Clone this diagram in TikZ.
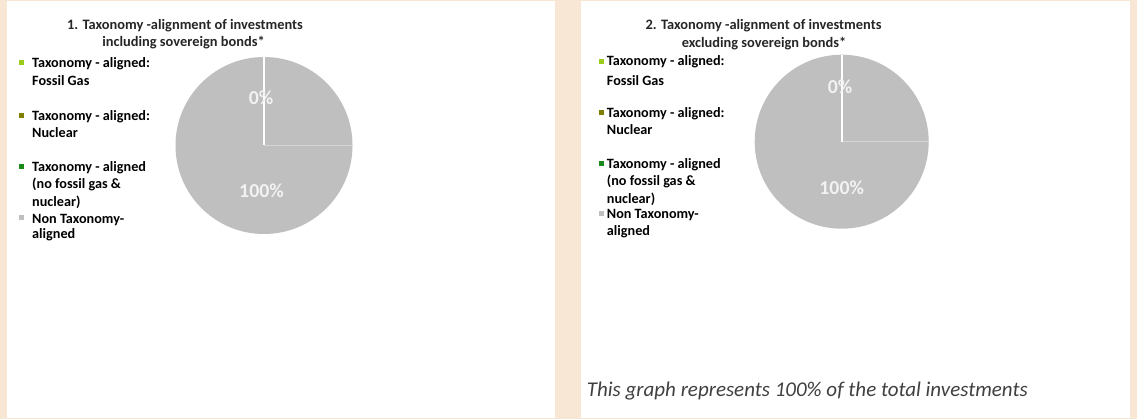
\documentclass[tikz,border=0pt]{standalone}
\usepackage{fontspec}
\setmainfont{Carlito}
\definecolor{beige}{HTML}{F9E7D5}
\definecolor{piegray}{HTML}{BFBFBF}
\definecolor{gasgreen}{HTML}{9BCB1C}
\definecolor{nucolive}{HTML}{7F7F00}
\definecolor{taxgreen}{HTML}{1A8A1A}
\definecolor{titlecol}{HTML}{262626}
\definecolor{notecol}{HTML}{404040}
\definecolor{sepline}{HTML}{D4D4D4}
\tikzset{
  panel/.style={fill=white, draw=none},
  charttitle/.style={font=\bfseries\fontsize{14.4}{18}\selectfont, text=titlecol, anchor=base, inner sep=0pt},
  legtext/.style={font=\bfseries\fontsize{14.2}{17.5}\selectfont, text=black, anchor=base west, inner sep=0pt},
  legbox/.style={minimum width=5pt, minimum height=5pt, inner sep=0pt, draw=none},
  pct/.style={font=\bfseries\fontsize{19.8}{22}\selectfont, text=white!95!black, anchor=base, inner sep=0pt},
  pieslice/.style={fill=piegray, draw=none},
  note/.style={font=\itshape\fontsize{21}{24}\selectfont, text=notecol, anchor=base west, inner sep=0pt}
}
\begin{document}
\begin{tikzpicture}[x=1pt,y=-1pt]
\useasboundingbox (0,0) rectangle (1137,419);
\fill[beige] (0,0) rectangle (1137,419);
\fill[panel] (7,1) rectangle (555,418);
\fill[panel] (581,1) rectangle (1130,418);

% ---------- chart 1 ----------
\node[charttitle] (t1a) at (185,29.3) {1. Taxonomy -alignment of investments};
\node[charttitle] (t1b) at (183.5,46.7) {including sovereign bonds*};

\coordinate (c1) at (264,145.5);
\fill[pieslice] (c1) circle[radius=88.5];
\draw[sepline, line width=0.8pt] (c1) -- ++(88.5,0);
\draw[white, line width=1.6pt] (c1) -- ++(0,-88.5);
\node[pct] (p1a) at (261,105) {0\%};
\node[pct] (p1b) at (261.5,197.3) {100\%};

\node[legbox, fill=gasgreen] (b1a) at (21,62.5) {};
\node[legtext] (l1a1) at (32,68) {Taxonomy - aligned:};
\node[legtext] (l1a2) at (32,86) {Fossil Gas};
\node[legbox, fill=nucolive] (b1b) at (21,115.2) {};
\node[legtext] (l1b1) at (32,120.7) {Taxonomy - aligned:};
\node[legtext] (l1b2) at (32,138) {Nuclear};
\node[legbox, fill=taxgreen] (b1c) at (21,166.2) {};
\node[legtext] (l1c1) at (32,171.7) {Taxonomy - aligned};
\node[legtext] (l1c2) at (32,189) {(no fossil gas \&};
\node[legtext] (l1c3) at (32,206.7) {nuclear)};
\node[legbox, fill=piegray] (b1d) at (21,217.8) {};
\node[legtext] (l1d1) at (32,223.3) {Non Taxonomy-};
\node[legtext] (l1d2) at (32,239) {aligned};

% ---------- chart 2 ----------
\node[charttitle] (t2a) at (763.5,29.3) {2. Taxonomy -alignment of investments};
\node[charttitle] (t2b) at (764,47.3) {excluding sovereign bonds*};

\coordinate (c2) at (841.7,141.7);
\fill[pieslice] (c2) circle[radius=87];
\draw[sepline, line width=0.8pt] (c2) -- ++(87,0);
\draw[white, line width=1.6pt] (c2) -- ++(0,-87);
\node[pct] (p2a) at (840,93.3) {0\%};
\node[pct] (p2b) at (841.7,195) {100\%};

\node[legbox, fill=gasgreen] (b2a) at (601.8,61.2) {};
\node[legtext] (l2a1) at (606.7,65.7) {Taxonomy - aligned:};
\node[legtext] (l2a2) at (606.7,86) {Fossil Gas};
\node[legbox, fill=nucolive] (b2b) at (601.8,112.8) {};
\node[legtext] (l2b1) at (606.7,117.3) {Taxonomy - aligned:};
\node[legtext] (l2b2) at (606.7,134.7) {Nuclear};
\node[legbox, fill=taxgreen] (b2c) at (601.8,163.8) {};
\node[legtext] (l2c1) at (606.7,168.3) {Taxonomy - aligned};
\node[legtext] (l2c2) at (606.7,185.3) {(no fossil gas \&};
\node[legtext] (l2c3) at (606.7,204) {nuclear)};
\node[legbox, fill=piegray] (b2d) at (601.8,213.8) {};
\node[legtext] (l2d1) at (606.7,218.3) {Non Taxonomy-};
\node[legtext] (l2d2) at (606.7,236) {aligned};

\node[note] (n2) at (586.7,396.7) {This graph represents 100\% of the total investments};
\end{tikzpicture}
\end{document}
